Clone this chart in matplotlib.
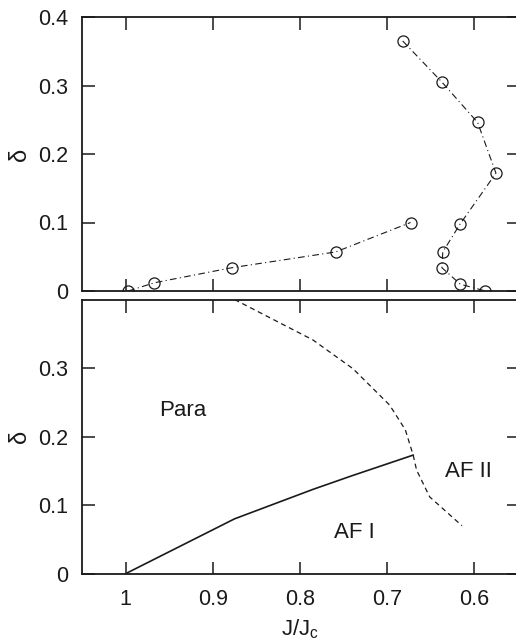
import matplotlib
matplotlib.use("Agg")
import matplotlib.pyplot as plt

plt.rcParams['font.family'] = ['Liberation Sans', 'DejaVu Sans']

# Data (upper panel: two branches of points)
b1_x = [0.997, 0.967, 0.878, 0.759, 0.673]
b1_y = [0.0, 0.012, 0.034, 0.057, 0.100]
b2_x = [0.682, 0.637, 0.596, 0.575, 0.616, 0.636, 0.637, 0.616, 0.587]
b2_y = [0.365, 0.305, 0.246, 0.172, 0.098, 0.057, 0.034, 0.010, 0.0]

# lower panel: phase boundaries
solid_x = [1.0, 0.875, 0.785, 0.740, 0.670]
solid_y = [0.0, 0.080, 0.123, 0.143, 0.173]
dash_x = [0.875, 0.785, 0.739, 0.697, 0.679, 0.670, 0.666, 0.651, 0.614]
dash_y = [0.400, 0.341, 0.299, 0.246, 0.210, 0.173, 0.151, 0.112, 0.070]

xticks = [1, 0.9, 0.8, 0.7, 0.6]
xticklabels = ["1", "0.9", "0.8", "0.7", "0.6"]
yticks_top = [0, 0.1, 0.2, 0.3, 0.4]
yticks_bot = [0, 0.1, 0.2, 0.3]

W, H = 516, 641
fig = plt.figure(figsize=(W / 100, H / 100), dpi=100)
left = 82 / W
right = 518.6 / W
ax1 = fig.add_axes([left, 1 - 291 / H, right - left, 274 / H])
ax2 = fig.add_axes([left, 1 - 573.7 / H, right - left, 274.2 / H])

col = '#1a1a1a'
for ax in (ax1, ax2):
    ax.set_xlim(1.05, 0.549)
    ax.set_ylim(0, 0.4)
    ax.set_xticks(xticks)
    ax.tick_params(direction='in', length=9, width=1.1, top=True, right=True,
                   labelsize=15.5, colors=col)
    ax.tick_params(axis='y', pad=10)
    ax.tick_params(axis='x', pad=11)
    for s in ax.spines.values():
        s.set_linewidth(1.3)
        s.set_color(col)
    ax.set_ylabel("δ", fontsize=17, color=col, labelpad=5)

ax1.plot(b1_x, b1_y, linestyle=(0, (6, 3, 1, 3)), color=col, lw=0.8,
         marker='o', ms=8, mfc='none', mec=col, mew=0.9)
ax1.plot(b2_x, b2_y, linestyle=(0, (6, 3, 1, 3)), color=col, lw=0.8,
         marker='o', ms=8, mfc='none', mec=col, mew=0.9)
ax1.set_yticks(yticks_top)
ax1.set_yticklabels(["0", "0.1", "0.2", "0.3", "0.4"])
ax1.set_xticklabels([])

ax2.plot(solid_x, solid_y, color=col, lw=1.2)
ax2.plot(dash_x, dash_y, color=col, lw=0.9, linestyle=(0, (4, 3)))
ax2.set_yticks(yticks_bot)
ax2.set_yticklabels(["0", "0.1", "0.2", "0.3"])
ax2.set_xticklabels(xticklabels)
ax2.set_xlabel("J/J$_\\mathregular{c}$", fontsize=16, color=col, labelpad=5)

ax2.text(0.934, 0.2386, "Para", fontsize=16, color=col, ha='center', va='center')
ax2.text(0.6065, 0.1487, "AF II", fontsize=16, color=col, ha='center', va='center')
ax2.text(0.737, 0.0603, "AF I", fontsize=16, color=col, ha='center', va='center')

fig.savefig("out.png", dpi=100)
